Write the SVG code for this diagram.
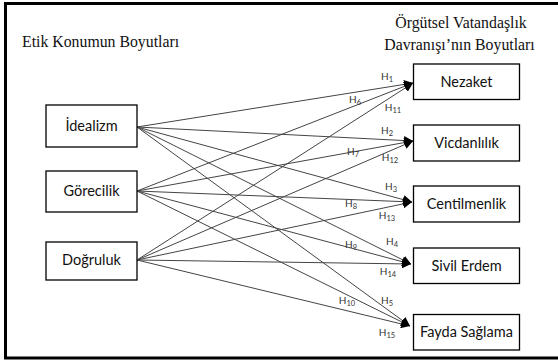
<svg xmlns="http://www.w3.org/2000/svg" width="558" height="363" viewBox="0 0 558 363">
<style>
.frame{fill:none;stroke:#000;stroke-width:3}
.box{fill:#fff;stroke:#000;stroke-width:1.3}
.btxt{font-family:Lato,"Open Sans",sans-serif;font-size:14.5px;fill:#111;text-anchor:middle}
.title{font-family:"Liberation Serif","Times New Roman",serif;font-size:15.8px;fill:#111}
.conn line{stroke:#444;stroke-width:1;marker-end:url(#ah)}
.lbl{font-family:Lato,"Open Sans",sans-serif;font-size:10px;fill:#333;text-anchor:middle}
.sub{font-size:7.5px}
</style>
<defs>
<marker id="ah" viewBox="0 0 10 10" refX="10" refY="5" markerWidth="9" markerHeight="9" markerUnits="userSpaceOnUse" orient="auto">
<path d="M0,0 L10,5 L0,10 z" fill="#000"/>
</marker>
</defs>
<rect width="558" height="363" fill="#fff"/>
<rect class="frame" x="5.5" y="3.5" width="560" height="354.5"/>
<text class="title" x="22" y="47">Etik Konumun Boyutları</text>
<text class="title" x="461" y="28" text-anchor="middle">Örgütsel Vatandaşlık</text>
<text class="title" x="459.5" y="49.5" text-anchor="middle">Davranışı’nın Boyutları</text>

<g class="conn" id="connectors">
<line x1="137" y1="127" x2="413" y2="83"/>
<line x1="137" y1="191" x2="413" y2="83"/>
<line x1="137" y1="260" x2="413" y2="83"/>
<line x1="137" y1="127" x2="413" y2="141"/>
<line x1="137" y1="191" x2="413" y2="141"/>
<line x1="137" y1="260" x2="413" y2="141"/>
<line x1="137" y1="127" x2="412" y2="202"/>
<line x1="137" y1="191" x2="412" y2="202"/>
<line x1="137" y1="260" x2="412" y2="202"/>
<line x1="137" y1="127" x2="411" y2="264"/>
<line x1="137" y1="191" x2="411" y2="264"/>
<line x1="137" y1="260" x2="411" y2="264"/>
<line x1="137" y1="127" x2="410" y2="326"/>
<line x1="137" y1="191" x2="410" y2="326"/>
<line x1="137" y1="260" x2="410" y2="326"/>
</g>

<g id="labels">
<text class="lbl" x="387" y="80">H<tspan class="sub" dy="2">1</tspan></text>
<text class="lbl" x="355" y="103">H<tspan class="sub" dy="2">6</tspan></text>
<text class="lbl" x="393" y="111">H<tspan class="sub" dy="2">11</tspan></text>
<text class="lbl" x="387" y="134">H<tspan class="sub" dy="2">2</tspan></text>
<text class="lbl" x="353" y="155">H<tspan class="sub" dy="2">7</tspan></text>
<text class="lbl" x="390" y="161">H<tspan class="sub" dy="2">12</tspan></text>
<text class="lbl" x="391" y="190">H<tspan class="sub" dy="2">3</tspan></text>
<text class="lbl" x="351" y="207">H<tspan class="sub" dy="2">8</tspan></text>
<text class="lbl" x="387" y="219">H<tspan class="sub" dy="2">13</tspan></text>
<text class="lbl" x="392" y="245">H<tspan class="sub" dy="2">4</tspan></text>
<text class="lbl" x="351" y="248">H<tspan class="sub" dy="2">9</tspan></text>
<text class="lbl" x="388" y="275">H<tspan class="sub" dy="2">14</tspan></text>
<text class="lbl" x="387" y="304">H<tspan class="sub" dy="2">5</tspan></text>
<text class="lbl" x="347" y="304">H<tspan class="sub" dy="2">10</tspan></text>
<text class="lbl" x="387" y="336">H<tspan class="sub" dy="2">15</tspan></text>
</g>

<g id="idealizm"><rect class="box" x="46" y="105" width="91" height="42"/><text class="btxt" x="91.5" y="131">İdealizm</text></g>
<g id="gorecilik"><rect class="box" x="46" y="171" width="91" height="41"/><text class="btxt" x="91.5" y="196">Görecilik</text></g>
<g id="dogruluk"><rect class="box" x="46" y="242" width="91" height="38"/><text class="btxt" x="91.5" y="265">Doğruluk</text></g>

<g id="nezaket"><rect class="box" x="413.5" y="64" width="106" height="35.5"/><text class="btxt" x="466.5" y="87">Nezaket</text></g>
<g id="vicdanlilik"><rect class="box" x="413.5" y="125" width="106" height="36"/><text class="btxt" x="466.5" y="148">Vicdanlılık</text></g>
<g id="centilmenlik"><rect class="box" x="413.5" y="186" width="106" height="36"/><text class="btxt" x="466.5" y="209">Centilmenlik</text></g>
<g id="sivilerdem"><rect class="box" x="413.5" y="248" width="106" height="35.5"/><text class="btxt" x="466.5" y="271">Sivil Erdem</text></g>
<g id="faydasaglama"><rect class="box" x="413.5" y="314.5" width="106" height="35.5"/><text class="btxt" x="466.5" y="337">Fayda Sağlama</text></g>
</svg>
